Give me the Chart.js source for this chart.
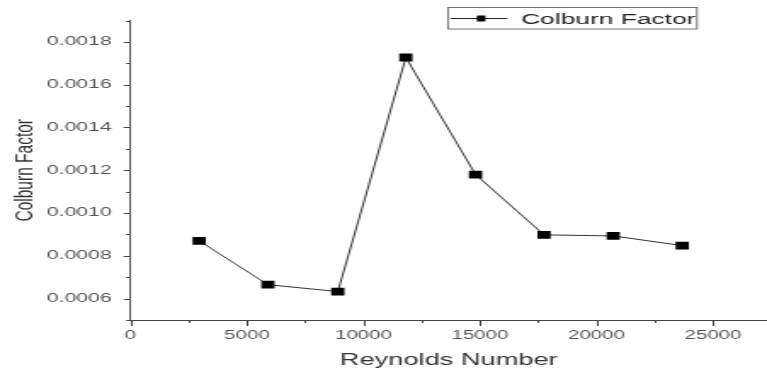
<!DOCTYPE html>
<html>
<head>
<meta charset="utf-8">
<script src="https://cdn.jsdelivr.net/npm/chart.js@4/dist/chart.umd.min.js"></script>
<style>
  html, body { margin: 0; padding: 0; background: #fff; overflow: hidden; }
  /* the plot is laid out narrow and widened horizontally */
  #wrap {
    position: absolute; left: 0; top: 0;
    width: 451px; height: 374px;
    transform: scaleX(1.70067);
    transform-origin: 0 0;
  }
  #c { display: block; width: 451px; height: 374px; }
</style>
</head>
<body>
<div id="wrap"><canvas id="c" width="451" height="374"></canvas></div>
<script>
// Colburn factor versus Reynolds number
const seriesLabel = 'Colburn Factor';
const reynolds = [2950, 5900, 8900, 11820, 14810, 17750, 20720, 23680];
const colburn  = [0.00087, 0.000665, 0.000633, 0.001727, 0.00118, 0.000898, 0.000893, 0.000848];

// axis ticks (blank label = minor tick)
const xTickValues = [0, 2500, 5000, 7500, 10000, 12500, 15000, 17500, 20000, 22500, 25000];
const xTickLabels = ['0', '', '5000', '', '10000', '', '15000', '', '20000', '', '25000'];
const yTickValues = [0.0005, 0.0006, 0.0007, 0.0008, 0.0009, 0.0010, 0.0011, 0.0012,
                     0.0013, 0.0014, 0.0015, 0.0016, 0.0017, 0.0018, 0.0019];
const yTickLabels = ['', '0.0006', '', '0.0008', '', '0.0010', '', '0.0012',
                     '', '0.0014', '', '0.0016', '', '0.0018', ''];

const FONT = '"Liberation Sans", Arial, sans-serif';

// short outward tick marks and the boxed legend
const decorations = {
  id: 'decorations',
  afterDraw(chart) {
    const { ctx, scales: { x, y } } = chart;
    ctx.save();
    ctx.strokeStyle = '#444';
    ctx.lineWidth = 1;
    ctx.beginPath();
    x.ticks.forEach((t, i) => {
      const px = Math.round(x.getPixelForValue(t.value)) + 0.5;
      const len = xTickLabels[i] ? 6 : 3;
      ctx.moveTo(px, x.top);
      ctx.lineTo(px, x.top + len);
    });
    y.ticks.forEach((t, i) => {
      const py = Math.round(y.getPixelForValue(t.value)) + 0.5;
      const len = yTickLabels[i] ? 4 : 2.5;
      ctx.moveTo(y.right, py);
      ctx.lineTo(y.right - len, py);
    });
    ctx.stroke();

    // legend
    const bx = 263.4, by = 7.5, bw = 146.4, bh = 21.5;
    ctx.strokeStyle = '#777';
    ctx.strokeRect(bx, by, bw, bh);
    ctx.strokeStyle = '#222';
    ctx.beginPath();
    ctx.moveTo(bx + 1.5, 18.5);
    ctx.lineTo(bx + 35, 18.5);
    ctx.stroke();
    ctx.fillStyle = '#000';
    ctx.fillRect(bx + 17, 15.5, 5, 6);
    ctx.fillStyle = '#222';
    ctx.font = '15.5px ' + FONT;
    ctx.textBaseline = 'alphabetic';
    ctx.textAlign = 'left';
    ctx.fillText(chart.data.datasets[0].label, bx + 43, 23.5);
    ctx.restore();
  }
};

new Chart(document.getElementById('c'), {
  type: 'line',
  data: {
    datasets: [{
      label: seriesLabel,
      data: reynolds.map((r, i) => ({ x: r, y: colburn[i] })),
      borderColor: '#333',
      borderWidth: 1,
      pointStyle: 'rect',
      pointRadius: 5.5,
      pointBackgroundColor: '#000',
      pointBorderWidth: 0,
      tension: 0,
      fill: false
    }]
  },
  options: {
    responsive: false,
    animation: false,
    devicePixelRatio: 1,
    layout: { autoPadding: false, padding: { top: 20.5, right: 0, bottom: 0, left: 0 } },
    plugins: {
      legend: { display: false },
      tooltip: { enabled: false }
    },
    scales: {
      x: {
        type: 'linear',
        min: 0,
        max: 27320,
        afterBuildTicks: s => { s.ticks = xTickValues.map(v => ({ value: v })); },
        afterFit: s => { s.height = 54; s.paddingLeft = 0; s.paddingRight = 0; },
        ticks: {
          autoSkip: false,
          maxRotation: 0,
          padding: 2,
          color: '#555',
          font: { family: FONT, size: 12 },
          callback: (v, i) => xTickLabels[i]
        },
        grid: { display: false, drawTicks: true, tickLength: 6 },
        border: { display: true, color: '#444', width: 1 },
        title: {
          display: true,
          text: 'Reynolds Number',
          color: '#333',
          font: { family: FONT, size: 16 },
          padding: { top: 0, bottom: 4 }
        }
      },
      y: {
        type: 'linear',
        min: 0.0005,
        max: 0.0019,
        afterBuildTicks: s => { s.ticks = yTickValues.map(v => ({ value: v })); },
        afterFit: s => { s.width = 76.7; s.paddingTop = 0; s.paddingBottom = 0; },
        ticks: {
          autoSkip: false,
          padding: 7,
          color: '#555',
          font: { family: FONT, size: 12.5 },
          callback: (v, i) => yTickLabels[i]
        },
        grid: { display: false, drawTicks: true, tickLength: 4 },
        border: { display: true, color: '#555', width: 1 },
        title: {
          display: true,
          text: 'Colburn Factor',
          color: '#333',
          font: { family: FONT, size: 15.5 },
          padding: { top: 5, bottom: 0 }
        }
      }
    }
  },
  plugins: [decorations]
});
</script>
</body>
</html>
